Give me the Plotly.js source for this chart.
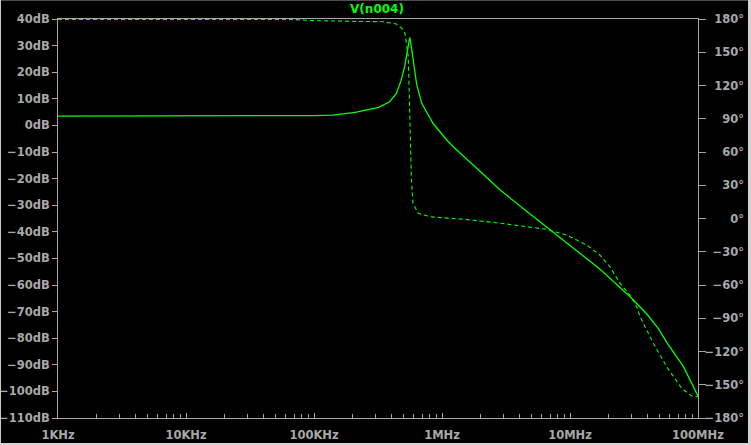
<!DOCTYPE html>
<html>
<head>
<meta charset="utf-8">
<script src="https://cdn.plot.ly/plotly-3.0.1.min.js"></script>
<style>
  html, body { margin: 0; padding: 0; background: #000; }
  #wrap { position: relative; width: 751px; height: 445px; overflow: hidden; }
  #plot { position: absolute; left: 0; top: 0; width: 751px; height: 445px; }
  .b { position: absolute; }
</style>
</head>
<body>
<div id="wrap">
  <div id="plot"></div>
  <div class="b" style="left:0;top:0;width:751px;height:1px;background:#505050"></div>
  <div class="b" style="left:0;top:0;width:1px;height:445px;background:#c8c8c8"></div>
  <div class="b" style="right:0;top:0;width:3px;height:445px;background:#d4d4d4"></div>
  <div class="b" style="left:0;bottom:0;width:751px;height:2px;background:#d4d4d4"></div>
</div>
<script>
// Magnitude (solid) – frequency in Hz, gain in dB
const freqMag = [1e3, 1e4, 5e4, 8e4, 1.0e5, 1.4e5, 2.1e5, 3.2e5, 3.9e5, 4.4e5, 4.8e5, 5.1e5,
  5.35e5, 5.5e5, 5.6e5, 5.7e5, 5.8e5, 6.0e5, 6.35e5, 6.95e5, 8.5e5, 1.09e6, 1.26e6, 2.0e6,
  2.85e6, 4.3e6, 6.6e6, 1.05e7, 1.7e7, 2.95e7, 4.0e7, 4.9e7, 5.7e7, 7.7e7, 1e8];
const magDB = [3.5, 3.5, 3.5, 3.5, 3.7, 3.9, 4.9, 6.8, 8.9, 12, 17, 22,
  27, 31, 33.1, 31, 28.3, 22, 15.2, 8.3, 0.8, -5.5, -8.6, -17.4,
  -24.3, -31.2, -38.3, -45.9, -53.9, -64.4, -71.0, -76.4, -81.6, -90.7, -101.7];

// Phase (dashed) – frequency in Hz, phase in degrees
const freqPh = [1e3, 7e4, 1e5, 2e5, 3.5e5, 4.4e5, 4.84e5, 5.14e5, 5.3e5, 5.45e5, 5.52e5, 5.58e5,
  5.64e5, 5.70e5, 5.77e5, 5.93e5, 6.53e5, 8.06e5, 1.47e6, 2.67e6, 6.58e6, 9.4e6, 1.35e7, 1.71e7,
  2.05e7, 2.46e7, 2.94e7, 3.32e7, 3.53e7, 3.85e7, 4.48e7, 5.69e7, 7.46e7, 8.92e7, 1e8];
const phaseDeg = [179.5, 179.5, 178.5, 178, 177.5, 175.5, 171.6, 167, 158, 146, 122, 95,
  75, 60, 35, 13.7, 4.7, 1.6, -0.7, -3.8, -9.8, -14.9, -23.9, -32.9,
  -43.5, -58.5, -69, -79.6, -88.6, -97.6, -112.6, -133.7, -153.2, -160.2, -160.8];

// Axis labels
const xTickVals = [1e3, 1e4, 1e5, 1e6, 1e7, 1e8];
const xTickText = ['1KHz', '10KHz', '100KHz', '1MHz', '10MHz', '100MHz'];
const traceName = 'V(n004)';

const green = '#00ff00';
const gray = '#a8a8a8';
const tfont = { family: 'DejaVu Sans', size: 11.5, color: gray, weight: 'bold' };

const W = 751, H = 445;
const L = 58, R = 698, T = 19, B = 418, LABR = 744;
const domEnd = (R - L) / (LABR - L);

const traces = [
  { x: freqMag, y: magDB, type: 'scatter', mode: 'lines', name: traceName,
    line: { color: green, width: 1.3 }, xaxis: 'x', yaxis: 'y', hoverinfo: 'skip' },
  { x: freqPh, y: phaseDeg, type: 'scatter', mode: 'lines', name: traceName,
    line: { color: green, width: 1.1, dash: '4px,3px' }, xaxis: 'x', yaxis: 'y2', hoverinfo: 'skip' },
  // same phase series bound to the label-only right axis (drawn invisibly so the axis is created)
  { x: freqPh, y: phaseDeg, type: 'scatter', mode: 'lines', name: traceName, opacity: 0,
    line: { color: green, width: 1 }, xaxis: 'x', yaxis: 'y3', hoverinfo: 'skip' }
];

const layout = {
  width: W, height: H,
  margin: { l: L, r: W - LABR, t: T, b: H - B, pad: 0 },
  paper_bgcolor: '#000', plot_bgcolor: '#000',
  showlegend: false,
  title: { text: traceName, x: 377 / W, xanchor: 'center', xref: 'container',
           y: 1 - 9 / H, yanchor: 'middle', yref: 'container',
           font: { family: 'DejaVu Sans', size: 12, color: green, weight: 'bold' } },
  xaxis: {
    type: 'log', range: [3, 8], domain: [0, domEnd],
    tickmode: 'array', tickvals: xTickVals, ticktext: xTickText,
    ticks: 'inside', ticklen: 5, tickcolor: gray, tickwidth: 1,
    minor: { dtick: 'D1', ticks: 'inside', ticklen: 4, tickcolor: gray, tickwidth: 1, showgrid: false },
    showgrid: false, zeroline: false,
    showline: true, linecolor: gray, linewidth: 1, mirror: true,
    tickfont: tfont, ticklabelstandoff: 6
  },
  yaxis: {
    range: [-110, 40], dtick: 10, tick0: 0, ticksuffix: 'dB',
    ticks: 'outside', ticklen: 5, tickcolor: gray, tickwidth: 1,
    showgrid: false, zeroline: false,
    showline: true, linecolor: gray, linewidth: 1,
    tickfont: tfont, ticklabelstandoff: 0
  },
  yaxis2: {
    range: [-180, 180], dtick: 30, tick0: 0, overlaying: 'y', side: 'right', anchor: 'x',
    ticks: 'outside', ticklen: 7, tickcolor: gray, tickwidth: 1,
    showticklabels: false,
    showgrid: false, zeroline: false,
    showline: true, linecolor: gray, linewidth: 1
  },
  yaxis3: {
    range: [-180, 180], dtick: 30, tick0: 0, ticksuffix: '°',
    overlaying: 'y', side: 'left', anchor: 'free', position: 1,
    ticks: '', showline: false, showgrid: false, zeroline: false,
    tickfont: tfont, ticklabelstandoff: 0
  }
};

Plotly.newPlot('plot', traces, layout, { staticPlot: true, displayModeBar: false });
</script>
</body>
</html>
